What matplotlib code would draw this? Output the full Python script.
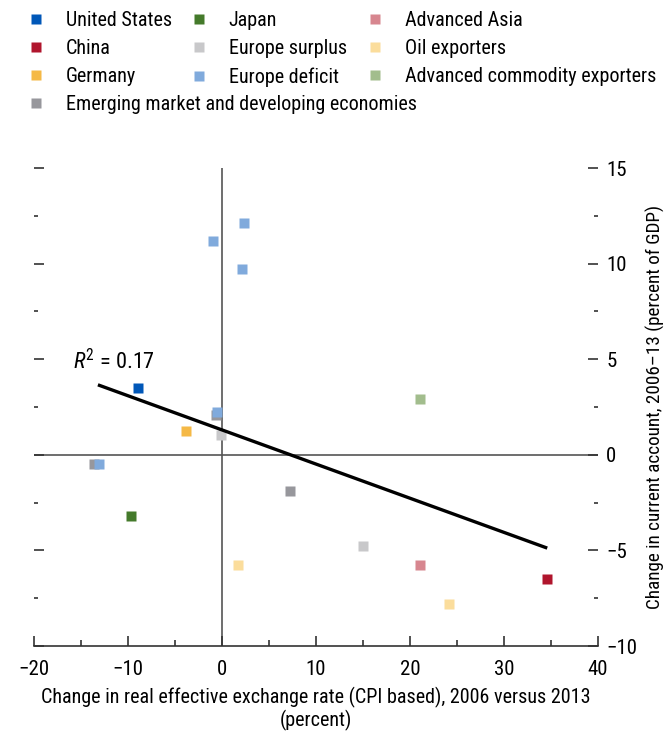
import matplotlib
matplotlib.use("Agg")
import matplotlib.pyplot as plt
from matplotlib.lines import Line2D
from matplotlib.ticker import MultipleLocator

FONT = "Roboto Condensed"
plt.rcParams["font.family"] = [FONT, "DejaVu Sans"]
plt.rcParams["mathtext.fontset"] = "custom"
plt.rcParams["mathtext.rm"] = FONT
plt.rcParams["mathtext.it"] = FONT + ":italic"

# groups in legend order (column by column)
groups = ["United States", "China", "Germany",
          "Emerging market and developing economies",
          "Japan", "Europe surplus", "Europe deficit",
          "Advanced Asia", "Oil exporters", "Advanced commodity exporters"]
colors = ["#0057b8", "#b0152d", "#f5b946",
          "#97979c",
          "#447a2b", "#c8c8ca", "#80aadc",
          "#d7868f", "#fbdd9c", "#a2bd8d"]

# REER change (x) and current account change (y) per group
x_vals = {
    "United States": [-8.9],
    "China": [34.6],
    "Germany": [-3.8],
    "Emerging market and developing economies": [-0.6, -13.6, 7.2],
    "Japan": [-9.7],
    "Europe surplus": [-0.1, 15.0],
    "Europe deficit": [-1.0, 2.3, 2.1, -0.5, -13.1],
    "Advanced Asia": [21.1],
    "Oil exporters": [1.7, 24.1],
    "Advanced commodity exporters": [21.1],
}
y_vals = {
    "United States": [3.5],
    "China": [-6.5],
    "Germany": [1.25],
    "Emerging market and developing economies": [2.1, -0.5, -1.9],
    "Japan": [-3.2],
    "Europe surplus": [1.05, -4.75],
    "Europe deficit": [11.2, 12.1, 9.7, 2.25, -0.5],
    "Advanced Asia": [-5.75],
    "Oil exporters": [-5.75, -7.8],
    "Advanced commodity exporters": [2.9],
}

trend_x = [-13.2, 34.6]
trend_y = [3.66, -4.88]
r2_label = r"$R^2$ = 0.17"

fig = plt.figure(figsize=(6.66, 7.32), dpi=100)
ax = fig.add_axes([34 / 666, 86 / 732, 564 / 666, 478 / 732])

ax.axhline(0, color="#555555", lw=1.2, zorder=1)
ax.axvline(0, color="#555555", lw=1.2, zorder=1)

# EMDE drawn first so that the others sit on top of it
draw_order = ["Emerging market and developing economies"] + [g for g in groups if g != "Emerging market and developing economies"]
for g in draw_order:
    c = colors[groups.index(g)]
    ax.plot(x_vals[g], y_vals[g], "s", color=c, ms=7.4, mec="none", zorder=3)

ax.plot(trend_x, trend_y, color="black", lw=2.4, zorder=4, solid_capstyle="butt")
ax.text(-15.8, 4.85, r2_label, fontsize=16, va="center", ha="left")

ax.set_xlim(-20, 40)
ax.set_ylim(-10, 15)
ax.xaxis.set_major_locator(MultipleLocator(10))
ax.xaxis.set_minor_locator(MultipleLocator(5))
ax.yaxis.set_major_locator(MultipleLocator(5))
ax.yaxis.set_minor_locator(MultipleLocator(2.5))

for s in ["top", "left", "right"]:
    ax.spines[s].set_visible(False)
ax.spines["bottom"].set_color("#333333")
ax.spines["bottom"].set_linewidth(1.2)

ax.tick_params(axis="x", which="both", direction="in", color="#333333", width=1.2, labelsize=15, pad=10)
ax.tick_params(axis="x", which="major", length=7)
ax.tick_params(axis="x", which="minor", length=4)
ax.tick_params(axis="y", which="both", direction="in", left=True, right=True,
               labelleft=False, labelright=True, color="#333333", width=1.2, labelsize=15, pad=6)
ax.tick_params(axis="y", which="major", length=7)
ax.tick_params(axis="y", which="minor", length=3)

ax.set_xlabel("Change in real effective exchange rate (CPI based), 2006 versus 2013\n(percent)",
              fontsize=14.5, labelpad=6, linespacing=1.1)
ax.yaxis.set_label_position("right")
ax.set_ylabel("Change in current account, 2006\u201313 (percent of GDP)", fontsize=13.8, labelpad=6)

# legend: three columns placed separately
cols = [groups[0:4], groups[4:7], groups[7:10]]
col_left = [26.3 / 666, 189.3 / 666, 365.3 / 666]
for names, left in zip(cols, col_left):
    handles = [Line2D([], [], marker="s", ls="none", ms=7.4, mec="none",
                      color=colors[groups.index(n)], label=n) for n in names]
    fig.legend(handles=handles, loc="upper left", bbox_to_anchor=(left, 1 - 11 / 732),
               frameon=False, fontsize=14.5, handlelength=1.0, handletextpad=0.95,
               borderpad=0, borderaxespad=0, labelspacing=0.45)

fig.savefig("out.png", dpi=100)
